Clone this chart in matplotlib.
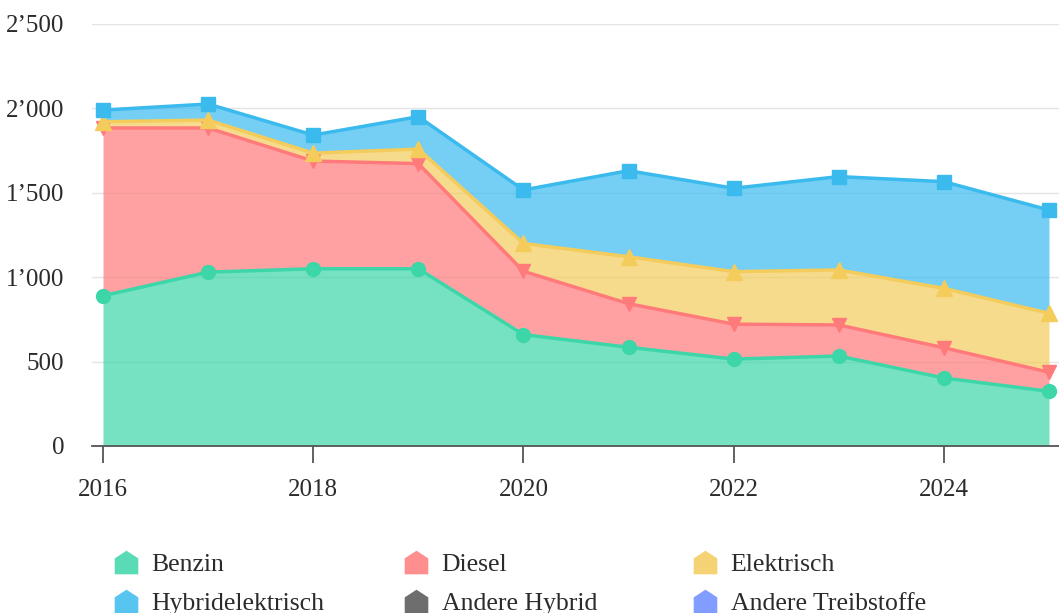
import numpy as np
import matplotlib
matplotlib.use('Agg')
import matplotlib.pyplot as plt
from matplotlib.path import Path
from matplotlib.lines import Line2D

plt.rcParams['font.family'] = ['Liberation Serif', 'DejaVu Serif']

# ========== data ==========
years = [2016, 2017, 2018, 2019, 2020, 2021, 2022, 2023, 2024, 2025]
benzin = [890, 1030, 1050, 1050, 660, 585, 515, 533, 403, 324]
diesel = [994, 854, 638, 623, 375, 258, 207, 184, 179, 113]
elektrisch = [37, 47, 47, 86, 165, 278, 311, 326, 352, 349]
hybridelektrisch = [69, 95, 107, 192, 317, 510, 494, 553, 632, 612]
andereHybrid = []
andereTreibstoffe = []

seriesNames = ['Benzin', 'Diesel', 'Elektrisch', 'Hybridelektrisch', 'Andere Hybrid', 'Andere Treibstoffe']
yTicks = [0, 500, 1000, 1500, 2000, 2500]
yTickLabels = ['0', '500', '1\u2019000', '1\u2019500', '2\u2019000', '2\u2019500']
xTicks = [2016, 2018, 2020, 2022, 2024]

colours = ['#3cd6a9', '#ff7a7b', '#f4cc5c', '#3bbaee', '#555555', '#6b8cff']
markers = ['o', 'v', '^', 's', '*', 'p']
markerSizes = [10, 10, 11, 10, 12, 11]

# ========== plot ==========
fig = plt.figure(figsize=(10.59, 6.13), dpi=100)
W, H = 1059, 613
ax = fig.add_axes([92/W, (H-446)/H, (W-92)/W, (446-24)/H])

stack = [benzin, diesel, elektrisch, hybridelektrisch]
bottom = np.zeros(len(years))
for i, vals in enumerate(stack):
    top = bottom + np.array(vals)
    ax.fill_between(years, bottom, top, color=colours[i], alpha=0.7, lw=0, zorder=2)
    ax.plot(years, top, color=colours[i], lw=2.5, marker=markers[i], ms=markerSizes[i],
            zorder=3 + i, clip_on=False)
    bottom = top
# series without values
ax.plot(years[:len(andereHybrid)], andereHybrid, color=colours[4], marker=markers[4])
ax.plot(years[:len(andereTreibstoffe)], andereTreibstoffe, color=colours[5], marker=markers[5])

ax.set_xlim(2016 - 11/105, 2025 + 10/105)
ax.set_ylim(0, 2500)
ax.set_yticks(yTicks)
ax.set_yticklabels(yTickLabels)
ax.set_xticks(xTicks)
ax.set_xticklabels([str(x) for x in xTicks])
ax.grid(axis='y', color='#e4e4e4', lw=1, zorder=0)
for s in ['top', 'right', 'left']:
    ax.spines[s].set_visible(False)
ax.spines['bottom'].set_color('#555555')
ax.spines['bottom'].set_linewidth(1.3)
ax.spines['bottom'].set_zorder(10)
ax.tick_params(axis='y', length=0, pad=20, labelsize=18, labelcolor='#2b2b2b')
ax.tick_params(axis='x', length=12, width=1.3, color='#555555', pad=12, labelsize=18, labelcolor='#2b2b2b')

# legend with house-shaped symbols, three columns
house = Path([(-1, -1), (1, -1), (1, 0.35), (0, 1), (-1, 0.35), (-1, -1)],
             [Path.MOVETO, Path.LINETO, Path.LINETO, Path.LINETO, Path.LINETO, Path.CLOSEPOLY])
colX = [113, 403, 692]
for c in range(3):
    handles = []
    labels = []
    for r in range(2):
        idx = r * 3 + c
        handles.append(Line2D([], [], ls='none', marker=house, ms=17, color=colours[idx],
                              alpha=0.85, markeredgewidth=0))
        labels.append(seriesNames[idx])
    fig.legend(handles, labels, loc='upper left', bbox_to_anchor=(colX[c]/W, 1 - 553/H),
               frameon=False, fontsize=18.5, borderpad=0, borderaxespad=0, handlelength=1,
               handletextpad=0.5, labelspacing=0.62, labelcolor='#2b2b2b')

plt.savefig('out.png', dpi=100)
